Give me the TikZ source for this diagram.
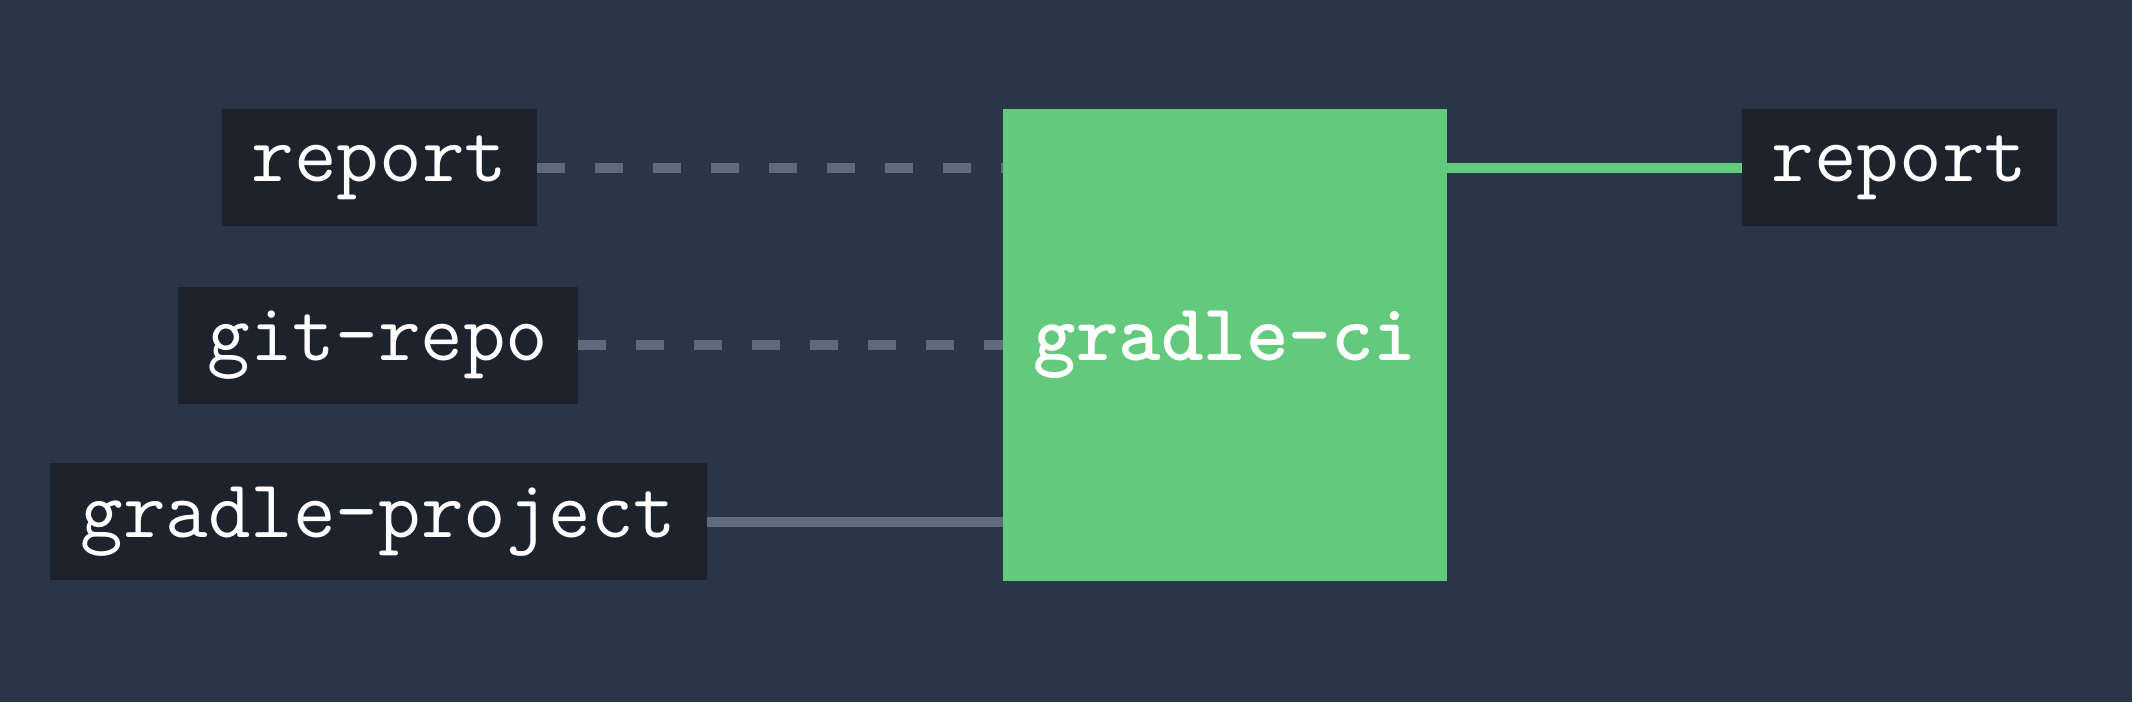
\documentclass[tikz,border=0pt]{standalone}
\usepackage{fontspec}
\definecolor{bgcol}{HTML}{2A3648}
\definecolor{boxcol}{HTML}{1D232D}
\definecolor{cigreen}{HTML}{63C97C}
\definecolor{linkgray}{HTML}{5F6B7A}
\tikzset{
  artifact/.style={fill=boxcol, text=white, inner sep=0pt, minimum height=58.5pt,
    font=\fontsize{41.3}{41.3}\selectfont\ttfamily},
  optlink/.style={draw=linkgray, line width=5pt, dash pattern=on 14pt off 15pt},
  reqlink/.style={draw=linkgray, line width=5pt},
  outlink/.style={draw=cigreen, line width=5pt}
}
\begin{document}
\begin{tikzpicture}[x=0.5pt, y=-0.5pt]
    \fill[bgcol] (0,0) rectangle (2132,702);
    \useasboundingbox (0,0) rectangle (2132,702);

    % inputs
    \node[artifact, minimum width=157.5pt] (repin) at (379.5,167.5) {report};
    \node[artifact, minimum width=200pt] (git) at (378,345) {git-repo};
    \node[artifact, minimum width=328.5pt] (proj) at (378.5,521.5) {gradle-project};

    % task
    \node[fill=cigreen, text=white, inner sep=0pt, minimum width=222pt, minimum height=236pt,
      font=\fontsize{40.5}{40.5}\selectfont\ttfamily\bfseries] (ci) at (1225,345) {gradle-ci};

    % output
    \node[artifact, minimum width=157.5pt] (repout) at (1899.5,167.5) {report};

    \draw[optlink] (repin.east) -- (ci.west |- repin.east);
    \draw[optlink] (git.east) -- (ci.west |- git.east);
    \draw[reqlink] (proj.east) -- (ci.west |- proj.east);
    \draw[outlink] (ci.east |- repout.west) -- (repout.west);
\end{tikzpicture}
\end{document}
